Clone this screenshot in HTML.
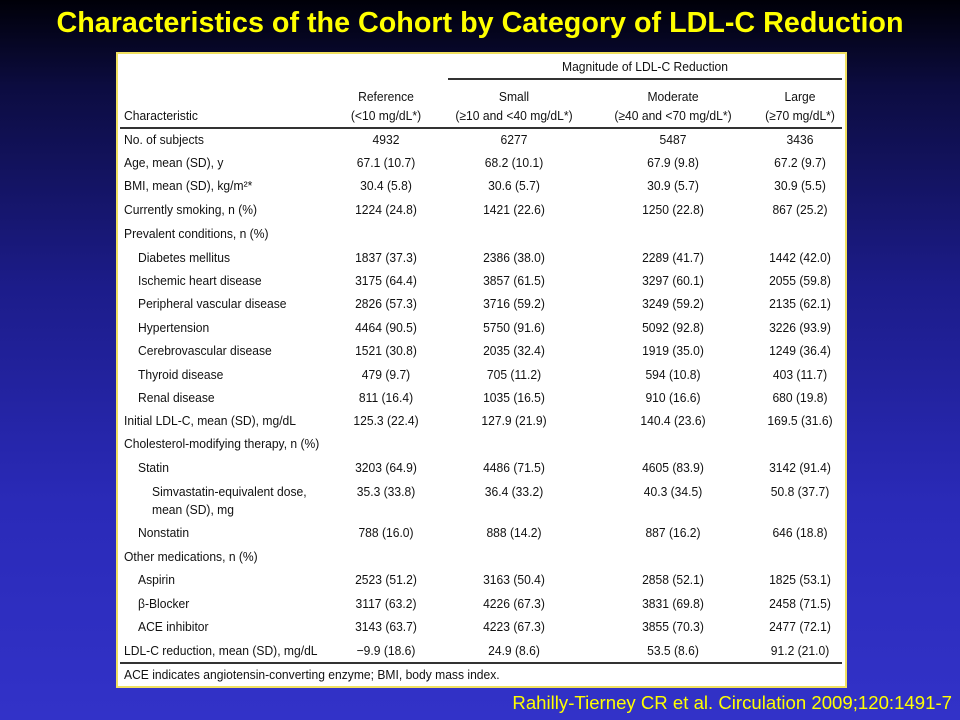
<!DOCTYPE html>
<html><head><meta charset="utf-8"><style>
html,body{margin:0;padding:0}
body{width:960px;height:720px;overflow:hidden;position:relative;background:linear-gradient(180deg,#000008 0%,#0c0c40 12%,#1c1c8a 40%,#2a2ab8 70%,#3232c8 100%);font-family:"Liberation Sans",sans-serif}
#title{position:absolute;left:0;width:960px;top:7px;text-align:center;color:#ffff00;font-weight:bold;font-size:29px;white-space:nowrap;transform:scaleX(0.99)}
#cite{position:absolute;right:8px;top:692px;color:#ffff00;font-size:18.6px;white-space:nowrap}
#box{position:absolute;left:116px;top:52px;width:727px;height:632px;background:#fff;border:2px solid #f0e060}
.t{position:absolute;font-size:13px;color:#111;white-space:nowrap;line-height:14px}
.l{transform:scaleX(0.93);transform-origin:left center}
.c{transform:translateX(-50%) scaleX(0.93)}
.rule{position:absolute;height:1.5px;background:#333}
</style></head><body>
<div id="title">Characteristics of the Cohort by Category of LDL-C Reduction</div>
<div id="box"></div>
<div id="cite">Rahilly-Tierney CR et al. Circulation 2009;120:1491-7</div>
<script>
var labels=["No. of subjects","Age, mean (SD), y","BMI, mean (SD), kg/m²*","Currently smoking, n (%)","Prevalent conditions, n (%)","Diabetes mellitus","Ischemic heart disease","Peripheral vascular disease","Hypertension","Cerebrovascular disease","Thyroid disease","Renal disease","Initial LDL-C, mean (SD), mg/dL","Cholesterol-modifying therapy, n (%)","Statin","Simvastatin-equivalent dose,|mean (SD), mg","Nonstatin","Other medications, n (%)","Aspirin","β-Blocker","ACE inhibitor","LDL-C reduction, mean (SD), mg/dL"];
var indent=[0,0,0,0,0,1,1,1,1,1,1,1,0,0,1,2,1,0,1,1,1,0];
var rowY=[140,163,186,210,234,258,281,304,328,351,375,398,421,444,468,492,533,557,580,604,627,651];
var refVals=["4932","67.1 (10.7)","30.4 (5.8)","1224 (24.8)","","1837 (37.3)","3175 (64.4)","2826 (57.3)","4464 (90.5)","1521 (30.8)","479 (9.7)","811 (16.4)","125.3 (22.4)","","3203 (64.9)","35.3 (33.8)","788 (16.0)","","2523 (51.2)","3117 (63.2)","3143 (63.7)","−9.9 (18.6)"];
var smallVals=["6277","68.2 (10.1)","30.6 (5.7)","1421 (22.6)","","2386 (38.0)","3857 (61.5)","3716 (59.2)","5750 (91.6)","2035 (32.4)","705 (11.2)","1035 (16.5)","127.9 (21.9)","","4486 (71.5)","36.4 (33.2)","888 (14.2)","","3163 (50.4)","4226 (67.3)","4223 (67.3)","24.9 (8.6)"];
var modVals=["5487","67.9 (9.8)","30.9 (5.7)","1250 (22.8)","","2289 (41.7)","3297 (60.1)","3249 (59.2)","5092 (92.8)","1919 (35.0)","594 (10.8)","910 (16.6)","140.4 (23.6)","","4605 (83.9)","40.3 (34.5)","887 (16.2)","","2858 (52.1)","3831 (69.8)","3855 (70.3)","53.5 (8.6)"];
var largeVals=["3436","67.2 (9.7)","30.9 (5.5)","867 (25.2)","","1442 (42.0)","2055 (59.8)","2135 (62.1)","3226 (93.9)","1249 (36.4)","403 (11.7)","680 (19.8)","169.5 (31.6)","","3142 (91.4)","50.8 (37.7)","646 (18.8)","","1825 (53.1)","2458 (71.5)","2477 (72.1)","91.2 (21.0)"];
var colX=[386,514,673,800];
var cols=[refVals,smallVals,modVals,largeVals];
function txt(s,x,y,cls){var d=document.createElement('div');d.className='t '+cls;d.style.left=x+'px';d.style.top=(y-7)+'px';d.textContent=s;document.body.appendChild(d);return d;}
function rule(x,y,w){var d=document.createElement('div');d.className='rule';d.style.left=x+'px';d.style.top=y+'px';d.style.width=w+'px';document.body.appendChild(d);return d;}
var e;
e=txt("Magnitude of LDL-C Reduction",645,67,'c');


e=rule(448,78,394);


var heads=[["Reference","(<10 mg/dL*)"],["Small","(≥10 and <40 mg/dL*)"],["Moderate","(≥40 and <70 mg/dL*)"],["Large","(≥70 mg/dL*)"]];
for(var i=0;i<4;i++){
 e=txt(heads[i][0],colX[i],97,'c');
 
 
 e=txt(heads[i][1],colX[i],116,'c');
 
 
}
e=txt("Characteristic",124,116,'l');


e=rule(120,127,722);


for(var r=0;r<labels.length;r++){
 var parts=labels[r].split('|');
 var lx=124+indent[r]*14;
 for(var p=0;p<parts.length;p++){
  e=txt(parts[p],lx,rowY[r]+p*18,'l');
  
  
 }
 for(var c=0;c<4;c++){
  if(!cols[c][r])continue;
  e=txt(cols[c][r],colX[c],rowY[r],'c');
  
  
 }
}
e=rule(120,662,722);


e=txt("ACE indicates angiotensin-converting enzyme; BMI, body mass index.",124,675,'l');


</script>
</body></html>
